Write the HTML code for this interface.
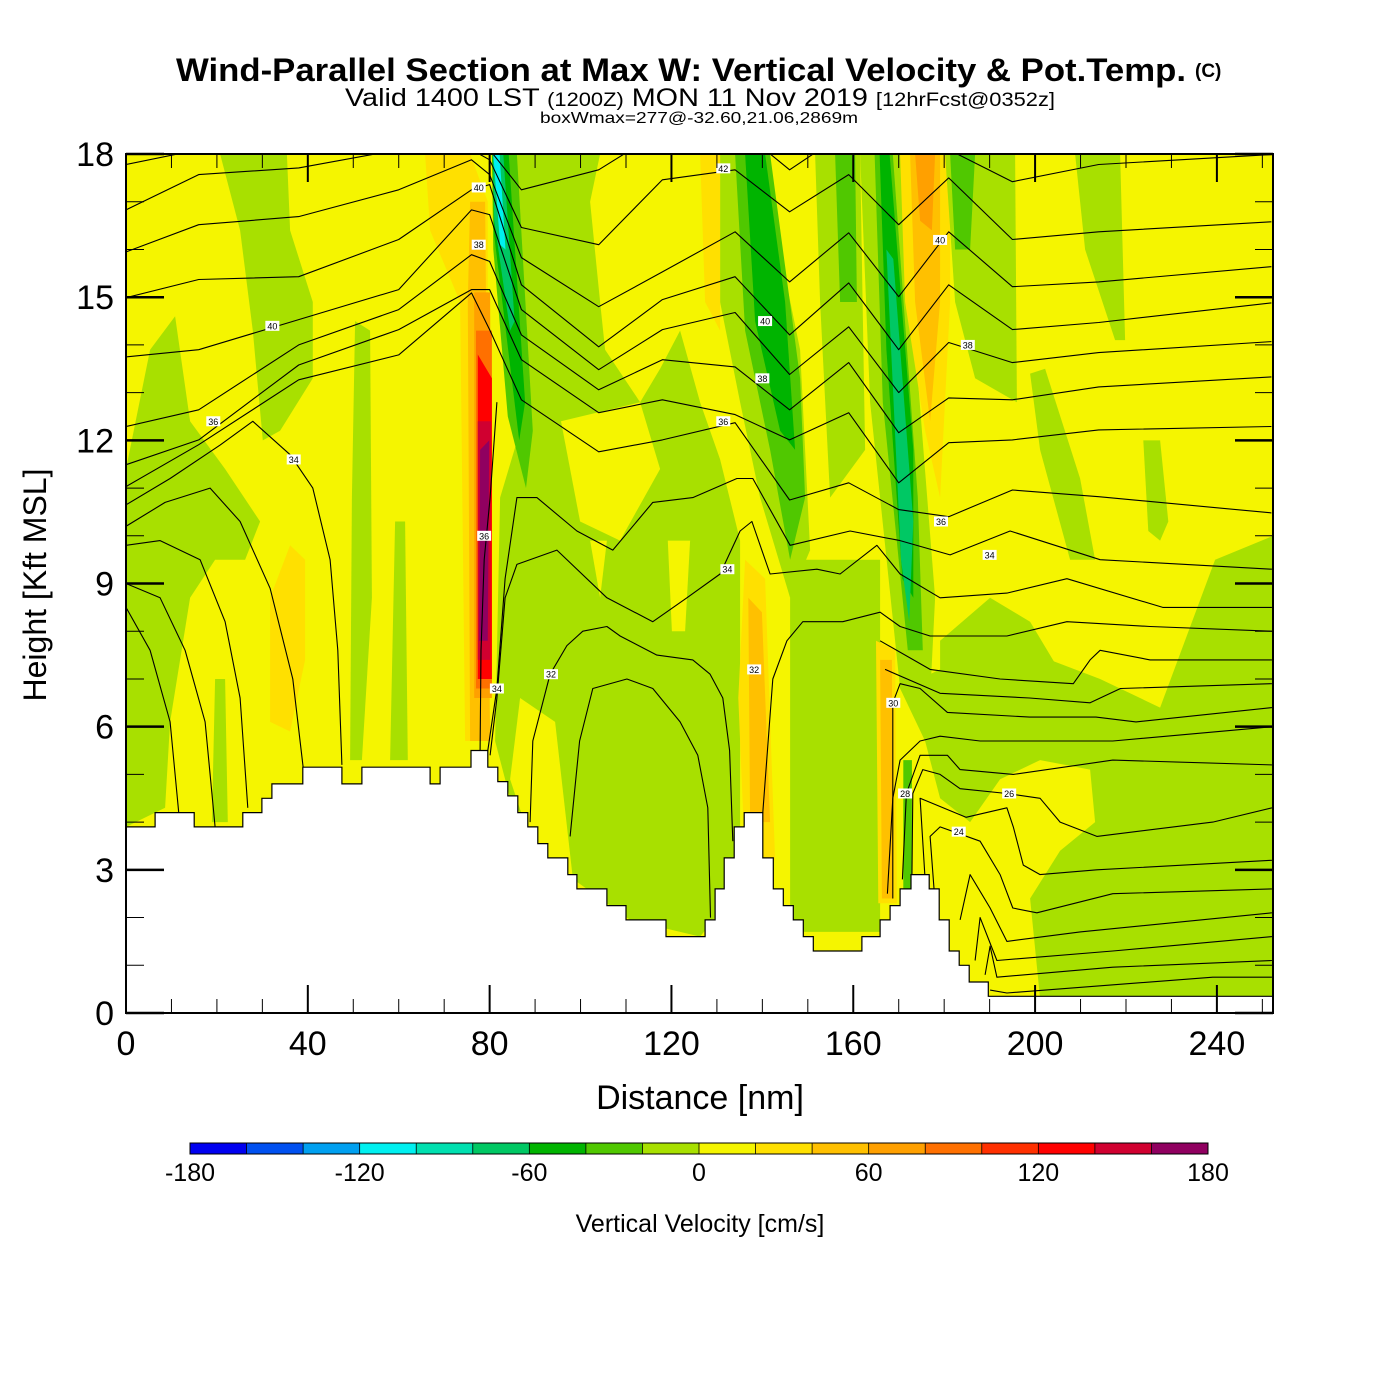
<!DOCTYPE html>
<html><head><meta charset="utf-8">
<style>
html,body{margin:0;padding:0;background:#fff;}
svg{display:block;font-family:"Liberation Sans",Arial,sans-serif;}
</style></head>
<body>
<svg id="chart" xmlns="http://www.w3.org/2000/svg" width="1400" height="1400" viewBox="0 0 1400 1400">
<rect x="0" y="0" width="1400" height="1400" fill="#fff"/>
<text x="176" y="81" font-size="32" font-weight="bold" textLength="1010" lengthAdjust="spacingAndGlyphs">Wind-Parallel Section at Max W: Vertical Velocity &amp; Pot.Temp.</text>
<text x="1195" y="77" font-size="19" font-weight="bold">(C)</text>
<text x="345" y="106" font-size="25" textLength="710" lengthAdjust="spacingAndGlyphs">Valid 1400 LST <tspan font-size="19">(1200Z)</tspan> MON 11 Nov 2019 <tspan font-size="19">[12hrFcst@0352z]</tspan></text>
<text x="540" y="123" font-size="16" textLength="318" lengthAdjust="spacingAndGlyphs">boxWmax=277@-32.60,21.06,2869m</text>
<defs><clipPath id="plotclip"><rect x="126" y="154" width="1147" height="859"/></clipPath></defs>
<g id="field" clip-path="url(#plotclip)"></g>
<g id="contours" clip-path="url(#plotclip)"></g>
<g id="terrain" clip-path="url(#plotclip)"></g>
<g id="clabels"></g>
<g id="axes"></g>
<g id="cbar"></g>
<text x="0" y="0" transform="translate(46,585) rotate(-90)" text-anchor="middle" font-size="32">Height [Kft MSL]</text>
<text x="700" y="1109" text-anchor="middle" font-size="34">Distance [nm]</text>
<text x="700" y="1232" text-anchor="middle" font-size="25">Vertical Velocity [cm/s]</text>
</svg>
<script>
// ---- data ----
const xTicks = [0,40,80,120,160,200,240];
const yTicks = [0,3,6,9,12,15,18];
const cbarTicks = [-180,-120,-60,0,60,120,180];
const cbarBins = [-170,-150,-130,-110,-90,-70,-50,-30,-10,10,30,50,70,90,110,130,150,170];
// terrain: segment start distance (nm) and height (kft)
const terrX = [0,6.4,15,25.7,29.9,32.1,38.9,47.5,51.9,66.9,69.1,75.9,79.6,81.8,84.0,86.2,88.4,90.6,92.8,97.2,99.2,105.8,110.0,118.8,127.4,129.6,131.6,133.8,136.0,140.1,142.4,144.6,146.8,149.0,151.2,161.9,165.9,168.1,170.3,172.7,176.7,178.9,181.1,183.3,185.5,189.7];
const terrH = [3.9,4.2,3.9,4.2,4.5,4.8,5.15,4.8,5.15,4.8,5.15,5.5,5.15,4.85,4.55,4.2,3.9,3.55,3.25,2.9,2.6,2.25,1.95,1.6,1.95,2.6,3.25,3.9,4.2,3.25,2.6,2.25,1.95,1.6,1.3,1.6,1.95,2.25,2.6,2.9,2.6,1.95,1.3,1.0,0.65,0.35];
const terrEnd = 252.4;
// vertical velocity regions: value (cm/s) and polygon in (nm, kft)
const regionVals = [-10,-10,-10,-10,-10,30,30,50,70,90,130,150,170,
 -10,10,10,10,10,-10,-10,-30,-50,30,50,30,-10,-10,-30,
 -10,-30,-50,-70,30,50,30,50,70,-10,-30,-10,-10,-10,-10,-10,-30,-30,-50,-70,-110,-130];
const regionPolys = [
 [[0,11.4],[5.3,13.9],[10.8,14.6],[14.1,12.4],[21.8,11.4],[29.5,10.3],[26.2,9.5],[19.6,9.5],[14.1,8.7],[9.7,6.1],[8.6,4.3],[0,3.9]],
 [[19.6,7.0],[21.8,7.0],[22.4,4.0],[18.9,4.0]],
 [[20.7,18],[35.4,18],[36.1,16.4],[41.1,14.9],[41.1,13.3],[33.9,12.2],[30.1,12.0],[27.9,14.3],[25.1,16.4]],
 [[50.4,14.5],[53.7,14.3],[54.1,8.7],[51.9,5.3],[49.3,5.3],[49.7,10.8]],
 [[59.2,10.3],[61.4,10.3],[62,5.3],[58.1,5.3]],
 [[31.7,8.7],[36.1,9.8],[39.4,9.5],[39.4,7.4],[36.1,5.9],[31.7,6.1]],
 [[65.8,18],[75.7,18],[79.6,17.0],[79.6,5.7],[74.6,5.7],[73.5,14.9],[66.9,16.4]],
 [[75.7,17.0],[79.0,17.0],[80.1,5.7],[75.7,5.7],[75.2,14.9]],
 [[76.6,15.1],[80.1,15.1],[80.5,6.6],[76.6,6.6]],
 [[77,14.3],[80.5,14.3],[80.5,6.8],[77,6.8]],
 [[77.4,13.8],[80.5,13.3],[80.5,7.0],[77.4,7.0]],
 [[77.4,12.4],[80.3,12.4],[80.1,7.4],[77.4,7.4]],
 [[77.9,11.8],[79.9,12.0],[79.6,7.8],[77.7,7.8]],
 [[87.8,18],[104.3,18],[102.1,17.0],[104.3,14.9],[105.4,13.9],[113.1,12.8],[117.5,13.5],[121.9,14.3],[126.3,12.8],[130.7,11.6],[135.1,9.9],[135.1,3.8],[132.9,2.4],[126.3,1.6],[110.9,1.95],[95.5,3.0],[84.5,4.5],[81.2,5.7],[82.3,10.8],[86.7,12.2]],
 [[86.7,6.6],[94.4,6.1],[98.8,2.4],[91.1,3.0],[84.5,4.9]],
 [[102.1,9.9],[105.8,9.9],[104.3,8.7]],
 [[119.2,9.9],[124.1,9.9],[123,8.0],[120.1,8.0]],
 [[95.7,12.4],[113.1,12.8],[117.5,11.4],[108.7,9.9],[99.9,10.3]],
 [[130.7,18],[139.5,18],[148.3,13.9],[150.5,9.7],[146.1,8.7],[139.5,10.8],[135.1,12.8],[130.7,14.9]],
 [[146.1,9.5],[165.9,9.5],[165.9,1.7],[146.1,1.7]],
 [[134,18],[141.7,18],[148.3,13.3],[149.4,10.8],[146.1,9.5],[141.7,11.8],[136.2,14.3]],
 [[136.2,18],[140.6,18],[145,14.9],[147.2,11.8],[143.9,12.2],[138.4,14.5]],
 [[136.2,9.5],[140.6,9.1],[142.8,3.2],[136.2,3.2],[134.7,6.6]],
 [[136.9,8.7],[139.9,8.4],[141.7,4.0],[137.3,4.0]],
 [[126.3,18],[130.7,18],[130.7,14.3],[127.4,14.9]],
 [[151.6,18],[161.5,18],[162.6,11.8],[154.9,10.8],[152.7,14.9]],
 [[161.5,18],[170.3,18],[178,8.7],[176.9,6.6],[170.3,6.8],[163.7,12.8]],
 [[156,18],[160.4,18],[160.8,14.9],[157.1,14.9]],
 [[170.3,6.8],[192.3,7.8],[214.3,7.0],[227.5,6.4],[239.6,9.5],[252.4,10.0],[252.4,0.3],[201.1,0.3],[198.9,2.4],[205.5,3.4],[213.2,4.0],[212.1,5.1],[201.1,5.3],[192.3,4.9],[185.7,4.0],[179.1,4.5],[175.8,5.7]],
 [[164.7,18],[168.7,18],[174.2,10.8],[175.3,7.6],[172,7.6],[166.5,12.8]],
 [[165.8,18],[168,18],[173.2,11.8],[173.2,8.7],[170.8,9.1],[167.3,13.9]],
 [[167.3,16],[168.8,15.8],[173.2,10.3],[172.3,8.2],[170.5,9.5]],
 [[165,7.8],[169.2,7.6],[169.6,2.3],[165.5,2.3]],
 [[165.9,7.4],[168.5,7.4],[168.7,2.4],[166.3,2.4]],
 [[170.3,18],[181.3,18],[181.3,14.9],[179.1,10.8],[175.8,12.2],[171.4,14.9]],
 [[172.5,18],[179.1,18],[179.1,14.9],[176.9,12.4],[173.6,14.9]],
 [[173.6,18],[178,18],[177.3,16.4],[174.7,16.6]],
 [[180.2,18],[195.6,18],[196,12.8],[186.8,13.3],[182.4,14.9]],
 [[181.3,18],[186.8,18],[185.7,16],[182.4,16]],
 [[208.8,18],[218.7,18],[219.8,14.1],[217.6,14.1],[211,16]],
 [[198.9,13.4],[202.2,13.5],[209.9,11.2],[213.2,9.5],[207.7,9.5],[201.1,11.8]],
 [[223.8,12.0],[227.5,12.0],[229.3,10.3],[227.5,9.9],[224.9,10.1]],
 [[179.1,7.8],[190.1,8.7],[198.9,8.2],[207.7,6.8],[179.1,6.6]],
 [[81.5,18],[90,18],[93,14],[92,11.5],[85,12.5],[82,16]],
 [[171,5.3],[172.9,5.3],[172.9,2.4],[171,2.4]],
 [[80.5,18],[86,18],[89.5,12.2],[88,11.0],[84,12.5],[80.8,16]],
 [[80.6,18],[84.2,18],[87.8,12.8],[86.5,12.0],[81,16.3]],
 [[80.7,18],[83,18],[85.5,14.5],[84.5,14.3],[81,16.6]],
 [[80.8,18],[82.2,18],[83.5,16.0],[82.3,16.1]]
];
// theta contour lines with common distances
const lineXs = [0,16,38,60,76,80,87,104,118,134,146,159,170,181,195,214,252];
const line1 = [17.78,18.09,18.3,18.6,18.8,18.09,17.25,17.67,18.5,18.6,17.67,18.5,18.09,18.09,17.42,17.78,17.99];
const line2 = [16.83,17.57,17.71,18.09,18.09,17.88,16.46,16.1,17.46,17.67,16.79,17.57,16.52,17.5,16.21,16.37,16.58];
const line3 = [15.95,16.52,16.69,17.25,17.88,17.57,15.83,14.8,15.53,16.37,15.32,16.35,15.01,16.37,15.22,15.32,15.64];
const line4 = [14.99,15.37,15.43,16.21,17.25,17.36,15.26,13.96,14.95,15.43,14.21,15.3,13.9,15.26,14.32,14.47,14.88];
const line5 = [13.75,13.9,14.53,15.16,16.83,16.73,14.74,13.48,14.32,14.68,13.38,14.38,13.0,14.05,13.63,13.84,14.07];
const line6 = [12.29,12.64,14.0,14.74,15.89,15.75,14.21,13.06,13.69,13.54,12.64,13.63,12.16,12.89,12.85,13.12,13.33];
const line7 = [11.49,12.01,13.58,14.32,15.16,15.16,13.69,12.58,12.85,12.54,12.01,12.58,11.11,11.95,12.01,12.22,12.29];
const line8 = [11.03,11.91,13.27,13.79,15.09,14.32,12.85,11.76,12.01,12.37,10.75,11.11,10.55,10.4,10.96,10.82,10.48];
// free-form contour lines (nm, kft)
const freeLines = [
 [[79.6,5.5],[81.6,6.8],[83.4,9.1],[86.0,10.8],[90.4,10.8],[99.2,10.1],[107.1,9.7],[115.9,10.7],[124.7,10.8],[134.4,11.2],[137.9,11.2],[146.1,9.8],[159.3,10.1],[170.3,9.9],[181.3,9.6],[194.5,10.1],[214.3,9.5],[252.1,9.3]],
 [[80.1,5.4],[81.6,6.6],[83.4,8.7],[86.0,9.4],[94.8,9.7],[105.8,8.7],[115.9,8.2],[123.4,8.7],[130.7,9.2],[135.1,10.1],[137.7,10.3],[141.7,9.2],[152.0,9.3],[157.1,9.2],[165.2,9.8],[170.3,9.2],[179.1,8.7],[193.8,8.8],[207.0,9.1],[228.1,8.5],[252.1,8.5]],
 [[88.9,4.0],[89.5,5.7],[93.3,7.1],[97.0,7.7],[100.5,8.0],[105.8,8.1],[108.7,7.9],[116.8,7.5],[124.7,7.4],[128.5,7.1],[131.3,6.6],[132.8,5.5],[133.5,3.6]],
 [[97.7,3.7],[99.8,5.7],[102.7,6.8],[110.2,7.0],[115.9,6.8],[121.9,6.1],[125.8,5.4],[128.0,4.3],[128.6,2.0]],
 [[140.1,4.2],[142.3,7.0],[145.4,7.8],[148.9,8.2],[157.7,8.2],[165.9,8.4],[170.3,8.1],[176.9,7.9],[193.8,7.9],[207.0,8.2],[225.3,8.1],[252.1,8.0]],
 [[165.9,7.8],[176.9,7.2],[192.3,7.0],[208.4,6.9],[212.1,7.4],[214.3,7.6],[225.3,7.4],[252.1,7.4]],
 [[167.0,7.2],[179.1,6.7],[198.8,6.6],[212.1,6.5],[218.8,6.8],[252.1,6.9]],
 [[168.7,2.4],[168.7,6.5],[170.3,6.9],[174.7,6.8],[180.7,6.3],[198.8,6.2],[213.4,6.2],[222.2,6.1],[252.1,6.4]],
 [[167.5,2.5],[168.7,4.5],[170.3,5.3],[174.7,5.7],[179.1,5.8],[187.9,5.7],[198.8,5.7],[217.1,5.7],[252.1,6.0]],
 [[170.8,2.8],[171.7,4.6],[174.7,5.4],[180.7,5.4],[183.5,5.1],[195.2,5.0],[217.1,5.3],[252.1,5.2]],
 [[172.9,2.8],[173.1,4.6],[175.3,5.1],[179.1,5.0],[183.5,4.7],[193.8,4.6],[201.1,4.5],[205.5,4.0],[213.6,3.7],[239.1,4.0],[252.1,4.3]],
 [[175.8,2.8],[174.7,4.5],[184.8,4.1],[193.8,4.3],[195.2,3.9],[197.4,3.1],[201.1,2.9],[213.6,3.0],[252.1,3.2]],
 [[178.0,2.3],[176.9,3.7],[179.1,3.9],[187.9,3.6],[192.3,2.9],[195.1,2.2],[200.4,2.1],[217.1,2.5],[252.1,2.6]],
 [[183.5,1.95],[185.7,2.9],[190.1,2.2],[193.8,1.5],[209.9,1.7],[252.1,2.1]],
 [[186.8,1.1],[187.9,2.0],[191.6,1.1],[217.1,1.3],[252.1,1.6]],
 [[189,0.8],[190.1,1.4],[191.6,0.75],[217.1,0.96],[252.1,1.1]],
 [[190.1,0.48],[193.8,0.42],[239.1,0.75],[252.1,0.75]],
 [[0,10.65],[9.7,11.2],[20.7,11.9],[27.9,12.4],[36.1,11.7],[41.1,11.0],[44.9,9.5],[46.6,7.6],[47.5,5.2]],
 [[0,10.2],[8.6,10.7],[18.5,11.0],[25.1,10.3],[31.7,8.9],[36.7,7.0],[39.4,4.8]],
 [[0,9.8],[7.5,9.9],[16.3,9.5],[21.8,8.2],[25.1,6.6],[26.8,4.3]],
 [[0,9.0],[7.5,8.7],[13,7.6],[17.4,6.1],[19.6,3.9]],
 [[0,8.5],[5.3,7.6],[9.7,6.1],[11.9,3.9]],
 [[81.6,12.8],[80.1,10.8],[78.8,9.5],[78.1,7.6],[77.9,5.5]]
];
// contour label values and positions
const labelVals = ['40','38','40','36','34','36','34','32','42','40','38','36','34','32','40','38','36','34','30','28','26','24'];
const labelPos = [[77.6,17.3],[77.6,16.1],[32.2,14.4],[19.2,12.4],[36.9,11.6],[78.8,10.0],[81.6,6.8],[93.5,7.1],[131.4,17.7],[140.6,14.5],[140.0,13.3],[131.4,12.4],[132.3,9.3],[138.2,7.2],[179.1,16.2],[185.2,14.0],[179.3,10.3],[190.0,9.6],[168.8,6.5],[171.4,4.6],[194.3,4.6],[183.2,3.8]];

// ---- scales ----
const X = nm => 126 + nm * 4.5454;
const Y = h => 1013 - h * 47.72;
const colorOf = v => {
  const cols = ['#0000f0','#0050f0','#00a0f0','#00f0f0','#00e0b0','#00c864','#00b400','#50c800','#a8e000','#f5f500','#ffe000','#ffc000','#ffa000','#ff7000','#ff3000','#ff0000','#d00030','#900060'];
  let i = Math.floor((v + 180) / 20);
  return cols[Math.max(0, Math.min(17, i))];
};
const NS = 'http://www.w3.org/2000/svg';
function mk(tag, attrs, parent) {
  const e = document.createElementNS(NS, tag);
  for (const k in attrs) e.setAttribute(k, attrs[k]);
  parent.appendChild(e);
  return e;
}
function linePath(pts) {
  return pts.map((q, i) => (i ? 'L' : 'M') + X(q[0]).toFixed(1) + ' ' + Y(q[1]).toFixed(1)).join(' ');
}

// ---- field ----
const field = document.getElementById('field');
const bg = mk('rect', {x:126, y:154, width:1147, height:859, fill:colorOf(10)}, field);


regionPolys.forEach((poly, i) => {
  const pg = mk('polygon', {points: poly.map(q => X(q[0]).toFixed(1) + ',' + Y(q[1]).toFixed(1)).join(' '), fill: colorOf(regionVals[i])}, field);
  
  
});

// ---- contours ----
const cg = document.getElementById('contours');
[line1, line2, line3, line4, line5, line6, line7, line8].forEach(arr => {
  const pts = lineXs.map((x, i) => [x, arr[i]]);
  const pa = mk('path', {d: linePath(pts), fill: 'none', stroke: '#000', 'stroke-width': 1.1, 'stroke-linejoin': 'round'}, cg);
  
  
});
freeLines.forEach(pts => {
  const pa = mk('path', {d: linePath(pts), fill: 'none', stroke: '#000', 'stroke-width': 1.1, 'stroke-linejoin': 'round'}, cg);
  
  
});

// ---- terrain ----
const tg = document.getElementById('terrain');
let td = 'M' + X(0) + ' 1020';
terrX.forEach((x, i) => {
  const x1 = i < terrX.length - 1 ? terrX[i + 1] : terrEnd;
  td += ' L' + X(x).toFixed(1) + ' ' + Y(terrH[i]).toFixed(1) + ' L' + X(x1).toFixed(1) + ' ' + Y(terrH[i]).toFixed(1);
});
td += ' L' + X(terrEnd) + ' 1020 Z';
const tp = mk('path', {d: td, fill: '#fff', stroke: '#000', 'stroke-width': 1.2}, tg);



// ---- contour labels ----
const lg = document.getElementById('clabels');
labelVals.forEach((v, i) => {
  const cx = X(labelPos[i][0]), cy = Y(labelPos[i][1]);
  const r = mk('rect', {x: cx - 7, y: cy - 5, width: 14, height: 10, fill: '#fff'}, lg);
  
  
  const t = mk('text', {x: cx, y: cy + 3.5, 'text-anchor': 'middle', 'font-size': 9}, lg);
  t.textContent = v;
  
  
});

// ---- axes ----
const ax = document.getElementById('axes');
const frame = mk('rect', {x:126, y:154, width:1147, height:859, fill:'none', stroke:'#000', 'stroke-width':2}, ax);


for (let v = 0; v <= 250; v += 10) {
  const major = v % 40 === 0;
  const L = major ? 28 : 14;
  const x = X(v);
  const b = mk('line', {x1:x, y1:1013, x2:x, y2:1013 - L, stroke:'#000', 'stroke-width': major ? 2 : 1}, ax);
  
  
  const t = mk('line', {x1:x, y1:154, x2:x, y2:154 + L, stroke:'#000', 'stroke-width': major ? 2 : 1}, ax);
  
  
}
xTicks.forEach(v => {
  const t = mk('text', {x: X(v), y: 1055, 'text-anchor': 'middle', 'font-size': 34}, ax);
  t.textContent = v;
  
  
});
for (let v = 0; v <= 18; v += 1) {
  const major = v % 3 === 0;
  const L = major ? 38 : 18;
  const y = Y(v);
  const l = mk('line', {x1:126, y1:y, x2:126 + L, y2:y, stroke:'#000', 'stroke-width': major ? 2.5 : 1}, ax);
  
  
  const r = mk('line', {x1:1273, y1:y, x2:1273 - L, y2:y, stroke:'#000', 'stroke-width': major ? 2.5 : 1}, ax);
  
  
}
yTicks.forEach(v => {
  const t = mk('text', {x: 114, y: Y(v) + 12, 'text-anchor': 'end', 'font-size': 34}, ax);
  t.textContent = v;
  
  
});

// ---- colorbar ----
const cb = document.getElementById('cbar');
const cbX = v => 190 + (v + 180) / 360 * 1018;
cbarBins.forEach(v => {
  const r = mk('rect', {x: cbX(v - 10), y: 1143, width: 1018 / 18 + 0.5, height: 11, fill: colorOf(v)}, cb);
  
  
});
const cbf = mk('rect', {x:190, y:1143, width:1018, height:11, fill:'none', stroke:'#000', 'stroke-width':1}, cb);


cbarBins.forEach(v => {
  const l = mk('line', {x1: cbX(v + 10), y1: 1143, x2: cbX(v + 10), y2: 1154, stroke: '#000', 'stroke-width': 0.8}, cb);
  
  
});
cbarTicks.forEach(v => {
  const t = mk('text', {x: cbX(v), y: 1181, 'text-anchor': 'middle', 'font-size': 25}, cb);
  t.textContent = v;
  
  
});
</script>
</body></html>
